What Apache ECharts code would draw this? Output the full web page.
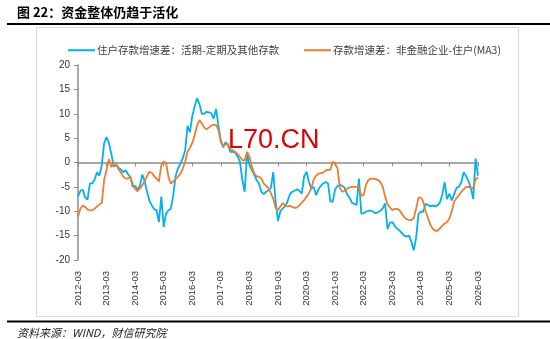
<!DOCTYPE html>
<html><head><meta charset="utf-8">
<script src="https://cdn.jsdelivr.net/npm/echarts@6/dist/echarts.min.js"></script>
<style>html,body{margin:0;padding:0;background:#fff}#c{width:550px;height:339px}</style>
</head><body><div id="c"></div>
<script>
// Monthly categories 2012-03 .. 2026-03
const startYear = 2012, startMonth = 3, monthCount = 169;
const categories = [];
for (let i = 0; i < monthCount; i++) {
  const t = startYear * 12 + (startMonth - 1) + i;
  const y = Math.floor(t / 12), m = t % 12 + 1;
  categories.push(y + '-' + (m < 10 ? '0' + m : '' + m));
}
const seriesNames = ['住户存款增速差：活期-定期及其他存款', '存款增速差：非金融企业-住户(MA3)'];
// 住户存款增速差：活期-定期及其他存款
const householdSpread = [
 -7,-5.8,-5.6,-7.2,-7.6,-4.3,-4.3,-3.5,-2,-2.7,
 -0.5,4,5.2,4,1.8,-0.8,-0.5,-1.1,-1.4,-2,
 -1.6,-2.4,-3,-5,-4.8,-5.6,-4.8,-2.5,-3.8,-6,
 -7.8,-8.8,-9.6,-9.8,-12.2,-7,-13.2,-10.5,-9.8,-9.5,
 -6.7,-2.8,-1.2,-0.3,0.9,2.4,7.5,6.2,9.5,11.5,
 13.2,12,10,10,10.4,10.3,10.1,9,11,7.5,
 4.5,3.1,4.2,3.5,2.2,2.2,2,1.3,0.2,-3.5,
 -6,1.8,-0.5,-1.5,-2.5,-3.6,-4.3,-6,-6.5,-6,
 -5.7,-5.2,-2,-8,-12,-10,-9.4,-9,-8,-6.5,
 -6,-5.8,-5.5,-5.8,-6.4,-2.8,-1.9,-4,-5.4,-5,
 -6.7,-5.5,-4.8,-4.3,-4,-4.3,-8,-8,-5.5,-4.8,
 -4.6,-4.8,-5.2,-6.5,-7.2,-8.2,-8.5,-8.7,-3.3,-10.5,
 -10.4,-10.1,-9.9,-9.9,-10.1,-10.4,-10.2,-9.9,-9.4,-8.4,
 -13.7,-12.4,-12.2,-13,-13.6,-13.9,-14.5,-15,-15.2,-15,
 -16.2,-18,-15.5,-10.6,-10.1,-10.1,-8.5,-8.7,-9,-8.8,
 -9,-8.8,-8.2,-6.6,-4,-7.5,-6.4,-7.8,-6.5,-5.2,
 -5,-4,-2,-2.8,-3.8,-5.2,-7.5,0.8,-2.7
];
// 存款增速差：非金融企业-住户(MA3)
const corpHouseholdSpread = [
 -11.1,-9.5,-8.8,-9.1,-9.6,-9.8,-9.8,-9.5,-9,-8.6,
 -8.3,-3.5,-1.5,0.7,-1,0,-0.3,-1.4,-2,-2.9,
 -3.3,-3.3,-3,-4.5,-5.4,-5.9,-5.3,-4.7,-3.8,-2.8,
 -1.9,-2.1,-2.8,-3.3,-3.9,-0.5,0.2,-0.1,-3,-4.3,
 -3.9,-3.4,-2.9,-2.3,-1.3,0.2,2.2,3,4,5.6,
 7.6,8.7,8,7.2,6.8,7.2,7.6,7.7,7.7,6.7,
 4.2,3.4,3.8,3.8,2.7,2.5,2.2,1.7,1.2,0.5,
 0.4,2.2,1.2,-0.8,-2.2,-2.9,-2.9,-3.3,-4.3,-4.8,
 -5.3,-6.3,-7.4,-9.3,-9.8,-9,-8.3,-8.9,-9,-8.9,
 -9.1,-9.3,-9.2,-8.8,-8.2,-7.7,-7,-6.3,-5.3,-3.5,
 -2.7,-2.3,-2.2,-2.1,-1.6,-1.5,-1.5,0.2,-0.3,-1.2,
 -5.3,-6,-5.8,-5.4,-5.1,-5,-5,-5,-5,-6.8,
 -6.7,-4.5,-3.6,-3.3,-3.3,-3.4,-3.6,-4,-5,-7,
 -8.6,-9.2,-9.8,-9.5,-9.5,-9.8,-10.5,-11.2,-11.6,-11.8,
 -11.8,-11.5,-9.5,-7.2,-7.2,-8,-10,-11.4,-12.8,-13.6,
 -14,-14,-13.5,-13,-12.5,-12.2,-11.5,-10,-8,-7.3,
 -6.7,-6,-5.5,-5,-5,-5.2,-5.3,-3.5,-3
];
const yMin = -20, yMax = 20, yStep = 5;
const titleText = '图 22：资金整体仍趋于活化';
const sourceText = '资料来源：WIND，财信研究院';
const watermarkText = 'L70.CN';

const chart = echarts.init(document.getElementById('c'), null, {renderer: 'canvas'});
const axisGray = '#8c8c8c';
const numFont = '"Liberation Sans", Arial, sans-serif';
const cjkFont = '"Noto Sans CJK SC", sans-serif';
const legendText = {fontSize: 10.5, color: '#404040', fontFamily: cjkFont, padding: [0, 0, 0, -3]};
chart.setOption({
  animation: false,
  backgroundColor: '#fff',
  grid: {left: 78, right: 72, top: 65, bottom: 79, containLabel: false},
  legend: [
    {left: 63, top: 40, icon: 'rect', itemWidth: 27, itemHeight: 2,
     data: [seriesNames[0]], textStyle: legendText},
    {left: 299, top: 40, icon: 'rect', itemWidth: 27, itemHeight: 2,
     data: [seriesNames[1]], textStyle: legendText}
  ],
  xAxis: [
    {type: 'category', data: categories, boundaryGap: false, position: 'bottom',
     axisLine: {show: false, onZero: false}, axisTick: {show: false},
     axisLabel: {interval: 11, rotate: 90, margin: 11, fontSize: 9.5, color: '#333', fontFamily: numFont},
     splitLine: {show: false}},
    {type: 'category', data: categories, boundaryGap: false, position: 'bottom',
     axisLine: {show: true, onZero: true, lineStyle: {color: axisGray, width: 1.5}},
     axisTick: {show: true, interval: 11, length: 4, inside: false, lineStyle: {color: axisGray, width: 1}},
     axisLabel: {show: false}, splitLine: {show: false}}
  ],
  yAxis: {type: 'value', min: yMin, max: yMax, interval: yStep,
    axisLine: {show: true, lineStyle: {color: axisGray, width: 1.5}},
    axisTick: {show: true, length: 4, lineStyle: {color: axisGray}},
    axisLabel: {fontSize: 10, color: '#333', margin: 8, fontFamily: numFont},
    splitLine: {show: false}},
  series: [
    {name: seriesNames[0], type: 'line', data: householdSpread, xAxisIndex: 0, showSymbol: false,
     lineStyle: {color: '#00B0F0', width: 1.8}, itemStyle: {color: '#00B0F0'}},
    {name: seriesNames[1], type: 'line', data: corpHouseholdSpread, xAxisIndex: 0, showSymbol: false,
     lineStyle: {color: '#ED7D31', width: 1.8}, itemStyle: {color: '#ED7D31'}}
  ],
  graphic: [
    {type: 'rect', z: -10, shape: {x: 36.5, y: 27.5, width: 482, height: 289},
     style: {fill: '#fff', stroke: '#d9d9d9', lineWidth: 1}},
    {type: 'text', x: 17, y: 12, style: {text: titleText, fontSize: 13, fontWeight: 'bold',
     fill: '#000', fontFamily: cjkFont, verticalAlign: 'middle'}},
    {type: 'rect', shape: {x: 7, y: 23, width: 543, height: 2}, style: {fill: '#000'}},
    {type: 'rect', shape: {x: 7, y: 320.5, width: 543, height: 2}, style: {fill: '#000'}},
    {type: 'text', x: 17, y: 333, style: {text: sourceText, fontSize: 11, fontStyle: 'italic',
     fill: '#222', fontFamily: cjkFont, verticalAlign: 'middle'}},
    {type: 'text', x: 228, y: 141, z: 100, style: {text: watermarkText, fontSize: 27,
     fill: '#e00000', fontFamily: '"Liberation Sans", Arial, sans-serif', verticalAlign: 'middle'}}
  ]
});
</script></body></html>
